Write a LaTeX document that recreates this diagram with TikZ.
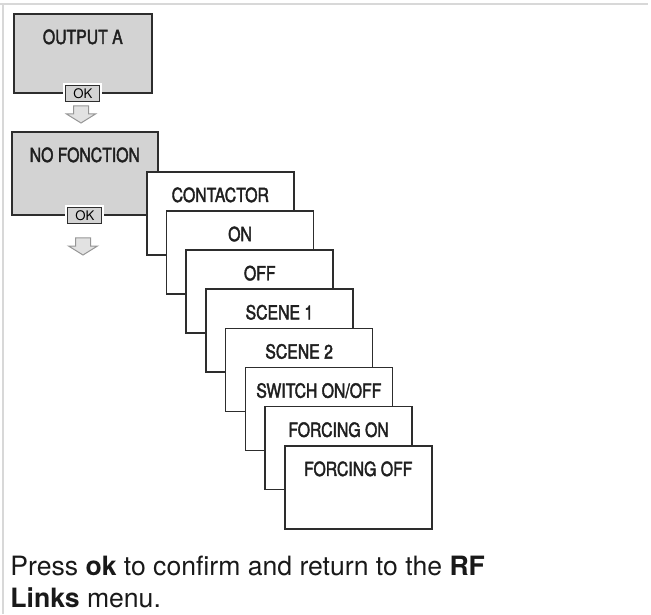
\documentclass[tikz,border=0pt]{standalone}
\usepackage{fontspec}
\setmainfont{TeX Gyre Heros}
\newfontfamily\condfont[FakeStretch=0.81, FakeBold=2]{TeX Gyre Heros}
\definecolor{boxgray}{RGB}{211,211,211}
\definecolor{framegray}{RGB}{216,216,216}
\definecolor{linegray}{RGB}{45,45,45}
\definecolor{arrowfill}{RGB}{226,226,226}
\definecolor{arrowline}{RGB}{150,150,150}

\tikzset{
  menubox/.style={draw=linegray, line width=0.8pt, anchor=north west, inner sep=0pt},
  menutext/.style={anchor=base, font=\condfont\fontsize{9.75}{11}\selectfont, text=black!88},
  okbtn/.style={draw=linegray, line width=0.5pt, fill=boxgray, minimum width=17pt, minimum height=8pt,
    inner sep=0pt, font=\fontsize{6.6}{7}\selectfont, preaction={draw=white, line width=2.5pt}},
  pics/dnarrow/.style={code={
    \draw[arrowline, fill=arrowfill, line width=0.5pt, line join=miter]
      (-7.5,0) -- (7.5,0) -- (7.5,8) -- (14.5,8) -- (0,17) -- (-14.5,8) -- (-7.5,8) -- cycle;
  }}
}

\begin{document}
\begin{tikzpicture}[x=0.5pt, y=-0.5pt]
    \useasboundingbox (0,0) rectangle (651,614);

    % page frame
    \draw[framegray, line width=1pt] (0,4.5) -- (648,4.5);
    \draw[framegray, line width=1pt] (3,4.5) -- (3,614);

    % Output A
    \node[menubox, fill=boxgray, minimum width=69pt, minimum height=39.5pt] (outA) at (13,13) {};
    \node[menutext] (outAlbl) at ([yshift=-15.5pt]outA.north) {OUTPUT A};
    \node[okbtn] (okA) at (outA.south) {OK};
    \pic at (81,106) {dnarrow};

    % No fonction
    \node[menubox, fill=boxgray, minimum width=73pt, minimum height=41.5pt] (noFn) at (11,131) {};
    \node[menutext] (noFnlbl) at ([yshift=-15.5pt]noFn.north) {NO FONCTION};
    \node[okbtn] (okB) at (noFn.south) {OK};
    \pic at (83,238) {dnarrow};

    % choices
    \foreach \lbl [count=\i from 0] in {CONTACTOR,ON,OFF,SCENE 1,SCENE 2,SWITCH ON/OFF,FORCING ON,FORCING OFF} {
        \node[menubox, fill=white, minimum width=73.5pt, minimum height=41.5pt] (opt\i) at ({146+19.71*\i},{171+39.14*\i}) {};
        \node[menutext] (optlbl\i) at ([yshift=-15.5pt]opt\i.north) {\lbl};
    }

    % note
    \node[anchor=north west, align=left, inner sep=0pt, text=black!90, font=\fontsize{13.3}{16}\selectfont] (note) at (10,556)
        {Press \textbf{ok} to confirm and return to the \textbf{RF}\\\textbf{Links} menu.};
\end{tikzpicture}
\end{document}
